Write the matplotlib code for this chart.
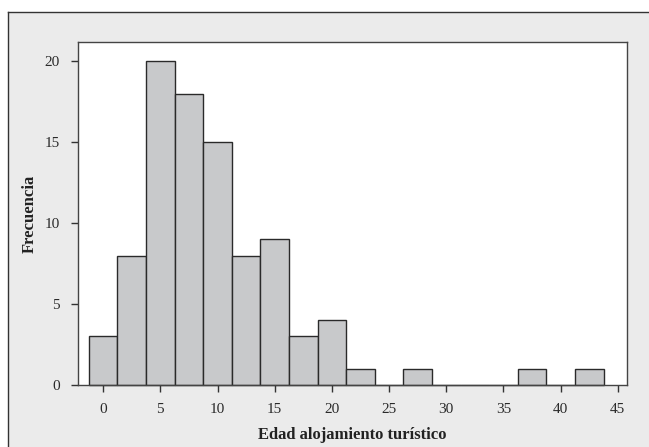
import matplotlib
matplotlib.use("Agg")
import matplotlib.pyplot as plt
from matplotlib.patches import Rectangle
from matplotlib.lines import Line2D
import numpy as np

# Data: histogram bins (centers) and frequencies
bin_centers = [0, 2.5, 5, 7.5, 10, 12.5, 15, 17.5, 20, 22.5, 25, 27.5, 30, 32.5, 35, 37.5, 40, 42.5]
counts = [3, 8, 20, 18, 15, 8, 9, 3, 4, 1, 0, 1, 0, 0, 0, 1, 0, 1]
bin_width = 2.5
x_ticks = [0, 5, 10, 15, 20, 25, 30, 35, 40, 45]
y_ticks = [0, 5, 10, 15, 20]
x_label = "Edad alojamiento turístico"
y_label = "Frecuencia"

plt.rcParams['font.family'] = ['Liberation Serif', 'DejaVu Serif']

W, H = 649, 447
fig = plt.figure(figsize=(W / 100, H / 100), dpi=100)
fig.patch.set_facecolor('white')

# Gray panel with border on left/top
px0, py0 = 8 / W, 1 - 12 / H
fig.patches.append(Rectangle((px0, 0), 1 - px0, py0, transform=fig.transFigure,
                             facecolor='#ebebeb', edgecolor='none', zorder=-10))
fig.lines.append(Line2D([px0, px0], [0, py0], transform=fig.transFigure, color='#333333', lw=1.0, zorder=-5))
fig.lines.append(Line2D([px0, 1], [py0, py0], transform=fig.transFigure, color='#333333', lw=1.0, zorder=-5))

ax = fig.add_axes([78 / W, 1 - 385 / H, (627 - 78) / W, (385 - 42) / H])
ax.set_zorder(1)
ax.set_facecolor('white')
bars = ax.bar(bin_centers, counts, width=bin_width, color='#c8c9cb', edgecolor='#2a2a2a',
              linewidth=1.0, align='center', zorder=2)
for b in bars:
    b.set_clip_on(False)

ax.set_xlim(-2.2, 45.8)
ax.set_ylim(0, 21.2)
ax.set_xticks(x_ticks)
ax.set_yticks(y_ticks)
ax.tick_params(axis='both', direction='out', length=5, width=1, color='#333333',
               labelsize=11, labelcolor='#2a2a2a')
ax.tick_params(axis='x', pad=8)
ax.tick_params(axis='y', pad=8)
for s in ax.spines.values():
    s.set_color('#444444')
    s.set_linewidth(1.0)
ax.spines['bottom'].set_zorder(3)

ax.set_xlabel(x_label, fontsize=12, fontweight='bold', color='#222222', labelpad=8)
ax.set_ylabel(y_label, fontsize=12, fontweight='bold', color='#222222', labelpad=5)

fig.savefig("out.png", dpi=100)
